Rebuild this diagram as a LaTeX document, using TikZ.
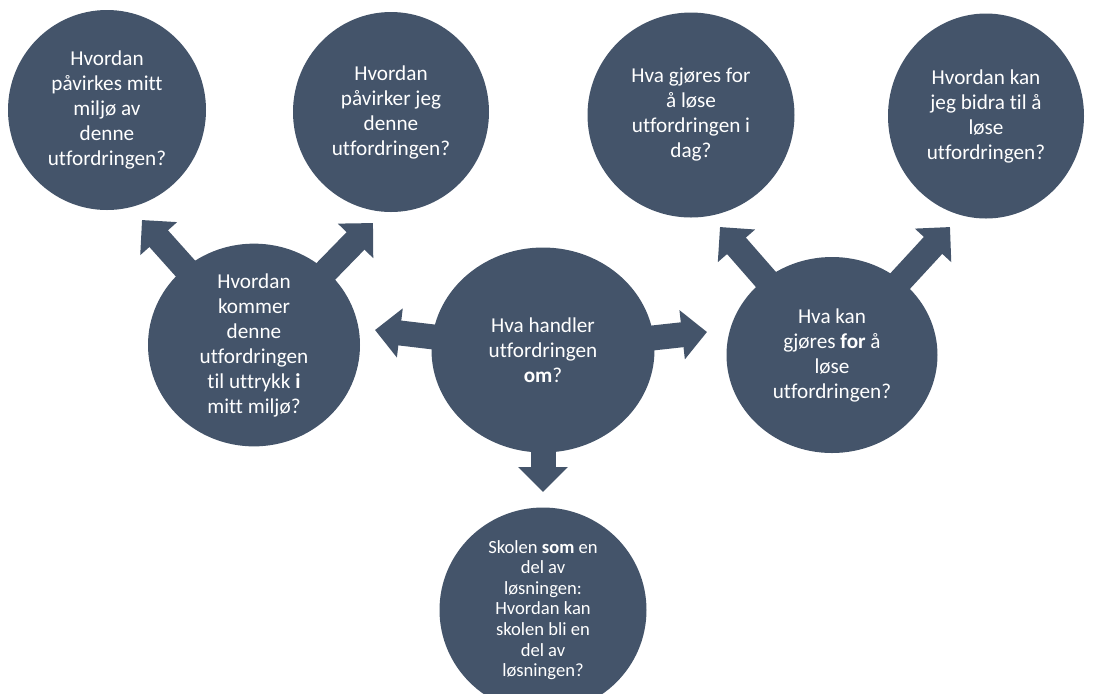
\documentclass[tikz,border=0pt]{standalone}
\usepackage{fontspec}
\setmainfont{Carlito}[Ligatures={NoCommon}]
\usetikzlibrary{arrows.meta,positioning,shapes.geometric}
\definecolor{skifer}{HTML}{44546A}

\begin{document}
\begin{tikzpicture}[x=0.5pt,y=-0.5pt,
  sirkel/.style={ellipse,fill=skifer,text=white,align=center,inner sep=0pt,
                 font=\fontsize{10.6}{12.5}\selectfont},
  liten/.style={font=\fontsize{9.3}{10.3}\selectfont},
  pil/.style={-{Triangle[length=12.5pt,width=24pt]},line width=12.5pt,color=skifer,shorten <=-6pt}]
  \useasboundingbox (0,0) rectangle (1094,693);
  % øverste rad
  \node[sirkel,minimum width=99pt,minimum height=100pt] (m1) at (107,110)
     {Hvordan\\påvirkes mitt\\miljø av\\denne\\utfordringen?};
  \node[sirkel,minimum width=98pt,minimum height=100pt] (m2) at (391,112)
     {Hvordan\\påvirker jeg\\denne\\utfordringen?};
  \node[sirkel,minimum width=103.5pt,minimum height=102.5pt] (m3) at (691,115)
     {Hva gjøres for\\å løse\\utfordringen i\\dag?};
  \node[sirkel,minimum width=98pt,minimum height=102.5pt] (m4) at (986,116)
     {Hvordan kan\\jeg bidra til å\\løse\\utfordringen?};
  % midtre rad
  \node[sirkel,minimum width=106pt,minimum height=97.5pt] (venstre) at (254,345)
     {Hvordan\\kommer\\denne\\utfordringen\\til uttrykk \textbf{i}\\mitt miljø?};
  \node[sirkel,minimum width=111.5pt,minimum height=102.5pt] (hoved) at (543,350)
     {Hva handler\\utfordringen\\\textbf{om}?};
  \node[sirkel,minimum width=105.5pt,minimum height=98pt] (hoyre) at (832,355)
     {Hva kan\\gjøres \textbf{for} å\\løse\\utfordringen?};
  % nederst
  \node[sirkel,liten,minimum width=103.5pt,minimum height=102.5pt] (bunn) at (543,610)
     {Skolen \textbf{som} en\\del av\\løsningen:\\Hvordan kan\\skolen bli en\\del av\\løsningen?};
  % pilspisser
  \coordinate (pv) at (375,330);
  \coordinate (ph) at (707,332);
  \coordinate (pn) at (543,492);
  \coordinate (v1) at (142,220);
  \coordinate (v2) at (373,223);
  \coordinate (h1) at (720,227);
  \coordinate (h2) at (950,227);
  \draw[pil] (hoved) -- (pv);
  \draw[pil] (hoved) -- (ph);
  \draw[pil] (hoved) -- (pn);
  \draw[pil] (venstre) -- (v1);
  \draw[pil] (venstre) -- (v2);
  \draw[pil] (hoyre) -- (h1);
  \draw[pil] (hoyre) -- (h2);
\end{tikzpicture}
\end{document}
